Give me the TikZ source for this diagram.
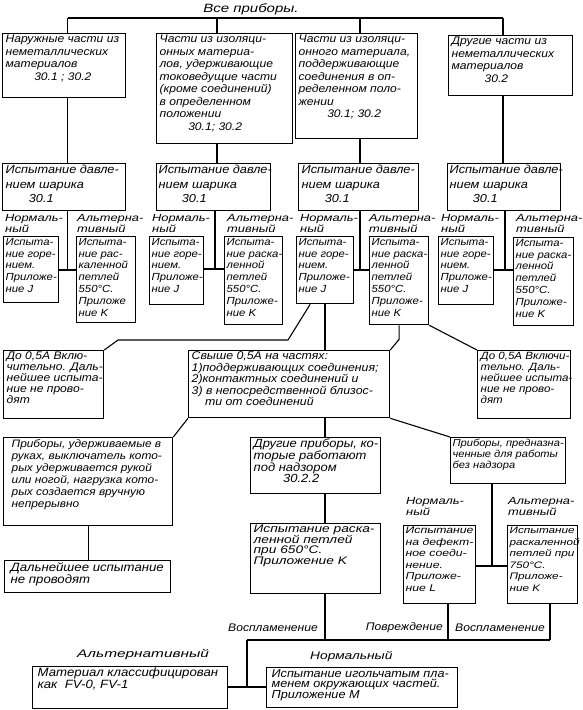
\documentclass[tikz,border=0pt]{standalone}
\usepackage{fontspec}
\setmainfont{Liberation Sans}[FakeStretch=1.1]
\newfontfamily\fwa{Liberation Sans}[FakeStretch=1.25]
\newfontfamily\fwb{Liberation Sans}[FakeStretch=1.4]
\newcommand{\bxt}[4][3pt]{\makebox[#2pt][l]{\begin{minipage}[c][#3pt][t]{300pt}\raggedright\leftskip=#1\relax\vspace*{1.5pt}#4\end{minipage}}}
\newcommand{\ftop}{\itshape\fontsize{11}{12.5}\selectfont}
\newcommand{\fball}{\itshape\fontsize{11.6}{14.5}\selectfont}
\newcommand{\fsm}{\itshape\fontsize{10.3}{11.8}\selectfont}
\newcommand{\fdo}{\itshape\fontsize{11}{11}\selectfont}
\newcommand{\flbl}{\fwa\itshape\fontsize{10.3}{9.5}\selectfont}
\tikzset{
  box/.style={draw, line width=1.3pt, inner sep=0pt, anchor=north west},
  ln/.style={line width=1.1pt},
  lbl/.style={inner sep=0pt, align=left, font=\flbl},
  blbl/.style={inner sep=0pt, font=\itshape\fontsize{11}{11}\selectfont},
}
\begin{document}
\begin{tikzpicture}[x=1pt,y=-1pt]
\useasboundingbox[fill=white] (0,0) rectangle (582,710);

\node[inner sep=0pt, font=\fwa\itshape\fontsize{12}{12}\selectfont] (all) at (251,9) {Все приборы.};

% top row
\node[box, font=\ftop] (b1) at (2,33) {\bxt{123}{64}{Наружные части из\\неметаллических\\материалов\\\hspace*{2.6em}30.1 ; 30.2}};
\node[box, font=\ftop] (b2) at (156,33) {\bxt{136}{110}{Части из изоляци-\\онных материа-\\лов, удерживающие\\токоведущие части\\(кроме соединений)\\в определенном\\положении\\\hspace*{2.6em}30.1; 30.2}};
\node[box, font=\ftop] (b3) at (295,33) {\bxt{122}{105}{Части из изоляци-\\онного материала,\\поддерживающие\\соединения в оп-\\ределенном поло-\\жении\\\hspace*{2.6em}30.1; 30.2}};
\node[box, font=\ftop] (b4) at (448,35) {\bxt{124}{60}{Другие части из\\неметаллических\\материалов\\\hspace*{3em}30.2}};

% ball pressure
\node[box, font=\fball] (p1) at (2,163) {\bxt{123}{47}{Испытание давле-\\нием шарика\\\hspace*{2em}30.1}};
\node[box, font=\fball] (p2) at (156,163) {\bxt[2pt]{114}{47}{Испытание давле-\\нием шарика\\\hspace*{2em}30.1}};
\node[box, font=\fball] (p3) at (298,163) {\bxt{120}{47}{Испытание давле-\\нием шарика\\\hspace*{2em}30.1}};
\node[box, font=\fball] (p4) at (447,163) {\bxt[2pt]{113}{47}{Испытание давле-\\нием шарика\\\hspace*{2em}30.1}};

% small boxes
\node[box, font=\fsm] (n1) at (3,236) {\bxt[2pt]{55}{66}{Испыта-\\ние горе-\\нием.\\Приложе-\\ние J}};
\node[box, font=\fsm] (a1) at (76,236) {\bxt[2pt]{59}{86}{Испыта-\\ние рас-\\каленной\\петлей\\550°C.\\Приложе\\ние K}};
\node[box, font=\fsm] (n2) at (149,236) {\bxt[2pt]{54}{68}{Испыта-\\ние горе-\\нием.\\Приложе-\\ние J}};
\node[box, font=\fsm] (a2) at (224,236) {\bxt[2pt]{58}{88}{Испыта-\\ние раска-\\ленной\\петлей\\550°C.\\Приложе-\\ние K}};
\node[box, font=\fsm] (n3) at (296,236) {\bxt[2pt]{57}{67}{Испыта-\\ние горе-\\нием.\\Приложе-\\ние J}};
\node[box, font=\fsm] (a3) at (369,236) {\bxt[2pt]{59}{88}{Испыта-\\ние раска-\\ленной\\петлей\\550°C.\\Приложе-\\ние K}};
\node[box, font=\fsm] (n4) at (438,236) {\bxt[2pt]{55}{68}{Испыта-\\ние горе-\\нием.\\Приложе-\\ние J}};
\node[box, font=\fsm] (a4) at (513,237) {\bxt[2pt]{60}{88}{Испыта-\\ние раска-\\ленной\\петлей\\550°C.\\Приложе-\\ние K}};

% labels row 1
\node[lbl, anchor=south west] (l1n) at (5,233) {Нормаль-\\ный};
\node[lbl, anchor=south west] (l1a) at (77,233) {Альтерна-\\тивный};
\node[lbl, anchor=south west] (l2n) at (152,233) {Нормаль-\\ный};
\node[lbl, anchor=south west] (l2a) at (227,233) {Альтерна-\\тивный};
\node[lbl, anchor=south west] (l3n) at (300,233) {Нормаль-\\ный};
\node[lbl, anchor=south west] (l3a) at (369,233) {Альтерна-\\тивный};
\node[lbl, anchor=south west] (l4n) at (441,233) {Нормаль-\\ный};
\node[lbl, anchor=south west] (l4a) at (516,233) {Альтерна-\\тивный};

% middle row
\node[box, font=\fdo] (dl) at (3,350) {\bxt{100}{68}{До 0,5А Вклю-\\чительно. Даль-\\нейшее испыта-\\ние не прово-\\дят}};
\node[box, font=\itshape\fontsize{11.2}{11.5}\selectfont] (sv) at (188,350) {\bxt{201}{67}{Свыше 0,5А на частях:\\1)поддерживающих соединения;\\2)контактных соединений и\\3) в непосредственной близос-\\\hspace*{1.2em}ти от соединений}};
\node[box, font=\itshape\fontsize{10.5}{11}\selectfont] (dr) at (477,350) {\bxt{93}{68}{До 0,5А Включи-\\тельно. Даль-\\нейшее испыта-\\ние не прово-\\дят}};

% lower row
\node[box, font=\itshape\fontsize{10.8}{12}\selectfont] (ph) at (3,437) {\bxt[8pt]{169}{88}{Приборы, удерживаемые в\\руках, выключатель кото-\\рых удерживается рукой\\или ногой, нагрузка кото-\\рых создается вручную\\непрерывно}};
\node[box, font=\itshape\fontsize{12}{11}\selectfont] (dn) at (4,560) {\bxt[6pt]{166}{32}{Дальнейшее испытание\\не проводят}};
\node[box, font=\itshape\fontsize{11.8}{11}\selectfont] (od) at (250,437) {\bxt{130}{56}{Другие приборы, ко-\\торые работают\\под надзором\\\hspace*{2.5em}30.2.2}};
\node[box, font=\fwa\itshape\fontsize{11}{10.5}\selectfont] (o650) at (250,523) {\bxt{130}{70}{Испытание раска-\\ленной петлей\\при 650°C.\\Приложение K}};
\node[box, font=\itshape\fontsize{10.1}{11}\selectfont] (pn) at (450,437) {\bxt[2pt]{115}{46}{Приборы, предназна-\\ченные для работы\\без надзора}};
\node[box, font=\fwa\itshape\fontsize{9.8}{11.5}\selectfont] (n5) at (403,525) {\bxt[2pt]{72}{78}{Испытание\\на дефект-\\ное соеди-\\нение.\\Приложе-\\ние L}};
\node[box, font=\fwa\itshape\fontsize{9.4}{11.5}\selectfont] (a5) at (507,525) {\bxt[2pt]{70}{78}{Испытание\\раскаленной\\петлей при\\750°C.\\Приложе-\\ние K}};
\node[lbl, anchor=south west] (l5n) at (406,516) {Нормаль-\\ный};
\node[lbl, anchor=south west] (l5a) at (508,516) {Альтерна-\\тивный};

% bottom
\node[box, font=\itshape\fontsize{12}{10.5}\selectfont] (mat) at (32,666) {\bxt[5pt]{195}{42}{Материал классифицирован\\как\ \ FV-0, FV-1}};
\node[box, font=\itshape\fontsize{11.5}{10.5}\selectfont] (ig) at (266,667) {\bxt[5pt]{191}{40}{Испытание игольчатым пла-\\менем окружающих частей.\\Приложение M}};

\node[blbl, anchor=east] (lv1) at (318,628) {Воспламенение};
\node[blbl, anchor=east] (lpv) at (443,628) {Повреждение};
\node[blbl, anchor=west] (lv2) at (455,628) {Воспламенение};
\node[blbl, anchor=west, font=\fwa\itshape\fontsize{11}{11}\selectfont] (lnr) at (310,657) {Нормальный};
\node[blbl, anchor=west, font=\fwb\itshape\fontsize{11}{11}\selectfont] (lal) at (77,655) {Альтернативный};

% connectors: top bus
\coordinate (t1) at (67.5,18);
\coordinate (t2) at (217,18);
\coordinate (t3) at (360,18);
\coordinate (t4) at (503,18);
\draw[ln] (t1) -- (t4);
\foreach \i in {1,2,3,4}{
  \draw[ln] (t\i) -- (t\i |- b\i.north);
  \draw[ln] (t\i |- b\i.south) -- (t\i |- p\i.north);
}
\coordinate (j1) at (67.5,270);
\coordinate (j2) at (215,269);
\coordinate (j3) at (360,270);
\coordinate (j4) at (505,270);
\foreach \i in {1,2,3,4}{
  \draw[ln] (j\i |- p\i.south) -- (j\i);
  \draw[ln] (n\i.east |- j\i) -- (a\i.west |- j\i);
}

% middle connectors
\coordinate (c3) at (325,0);
\coordinate (m1) at (288,340);
\coordinate (m2) at (118,340);
\draw[ln] ([xshift=-15pt]n3.south) -- (m1) -- (m2) -- (dl.north east);
\draw[ln] (n3.south -| c3) -- (sv.north -| c3);
\draw[ln] (a3.south) -- ++(0,14) -- (sv.north east);
\draw[ln] (a3.south east) -- (dr.north west);
\draw[ln] (sv.south west) -- (ph.north east);
\draw[ln] (sv.south -| c3) -- (od.north -| c3);
\draw[ln] (sv.south east) -- (pn.north west);
\draw[ln] (ph.south) -- (ph.south |- dn.north);
\draw[ln] (od.south -| c3) -- (o650.north -| c3);

\coordinate (j5) at (492,566);
\draw[ln] (pn.south -| j5) -- (j5);
\draw[ln] (n5.east |- j5) -- (a5.west |- j5);

% bottom bus
\coordinate (jb) at (247,640);
\coordinate (jm) at (247,687);
\coordinate (bL) at (448,640);
\coordinate (bR) at (550,640);
\draw[ln] (o650.south -| c3) -- (c3 |- jb);
\draw[ln] (n5.south -| bL) -- (bL);
\draw[ln] (a5.south -| bR) -- (bR);
\draw[ln] (jb) -- (bR);
\draw[ln] (jb) -- (jm);
\draw[ln] (mat.east |- jm) -- (ig.west |- jm);
\end{tikzpicture}
\end{document}
